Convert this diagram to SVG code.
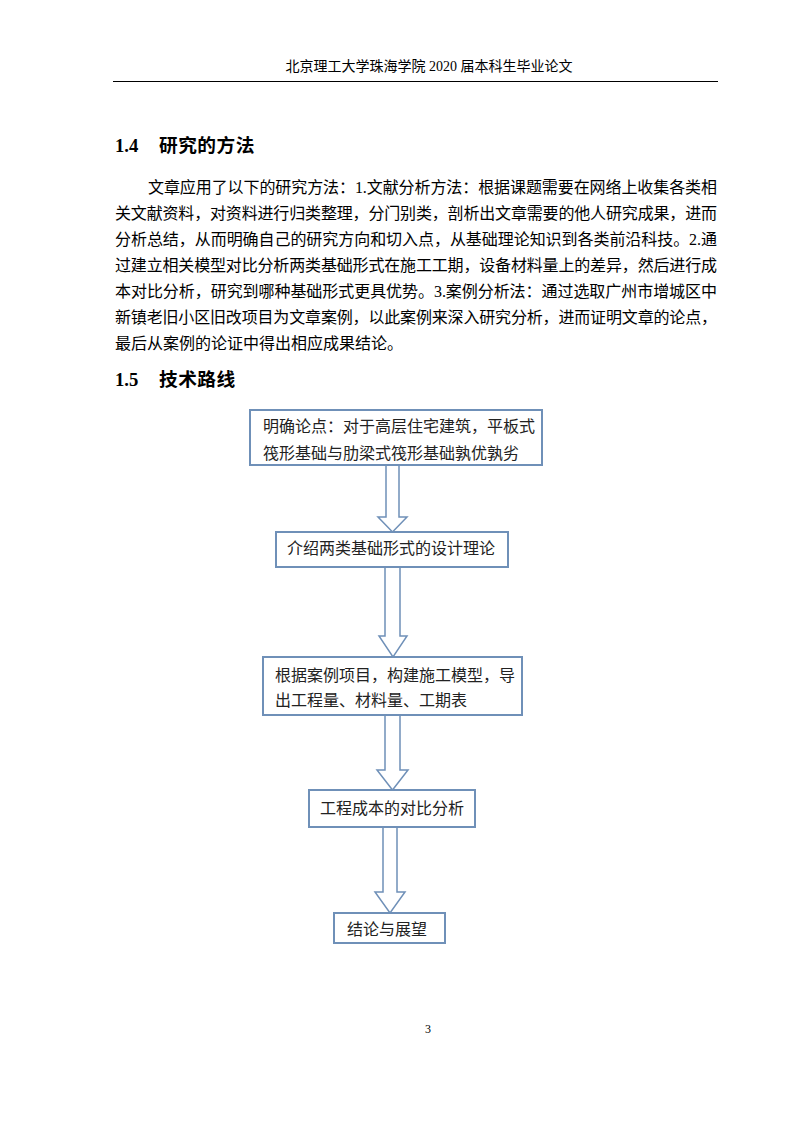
<svg xmlns="http://www.w3.org/2000/svg" width="793" height="1122" viewBox="0 0 793 1122">
<style>
.hdr{font-family:"Liberation Serif","Noto Sans CJK SC",serif;font-size:14px;fill:#000}
.h{font-family:"Liberation Serif","Noto Sans CJK SC",serif;font-size:18.7px;font-weight:bold;fill:#000}
.b{font-family:"Liberation Serif","Noto Sans CJK SC",serif;font-size:16px;fill:#000}
.box{fill:#fff;stroke:#6F90B8;stroke-width:2}
.arr{fill:#fff;stroke:#6F90B8;stroke-width:1.5;stroke-linejoin:miter}
.t{font-family:"Liberation Serif","Noto Sans CJK SC",serif;font-size:16px;fill:#222}
</style>
<rect width="793" height="1122" fill="#fff"/>
<text class="hdr" x="429" y="71" text-anchor="middle">北京理工大学珠海学院 2020 届本科生毕业论文</text>
<line x1="113" y1="81.5" x2="718" y2="81.5" stroke="#000" stroke-width="1.2"/>
<text class="h" x="115" y="152">1.4</text>
<text class="h" x="159" y="152" letter-spacing="0.5">研究的方法</text>
<text class="b" x="148" y="193" textLength="569" lengthAdjust="spacing">文章应用了以下的研究方法：1.文献分析方法：根据课题需要在网络上收集各类相</text>
<text class="b" x="115" y="219" textLength="602" lengthAdjust="spacing">关文献资料，对资料进行归类整理，分门别类，剖析出文章需要的他人研究成果，进而</text>
<text class="b" x="115" y="245" textLength="602" lengthAdjust="spacing">分析总结，从而明确自己的研究方向和切入点，从基础理论知识到各类前沿科技。2.通</text>
<text class="b" x="115" y="271" textLength="602" lengthAdjust="spacing">过建立相关模型对比分析两类基础形式在施工工期，设备材料量上的差异，然后进行成</text>
<text class="b" x="115" y="297" textLength="602" lengthAdjust="spacing">本对比分析，研究到哪种基础形式更具优势。3.案例分析法：通过选取广州市增城区中</text>
<text class="b" x="115" y="323" textLength="602" lengthAdjust="spacing">新镇老旧小区旧改项目为文章案例，以此案例来深入研究分析，进而证明文章的论点，</text>
<text class="b" x="115" y="349">最后从案例的论证中得出相应成果结论。</text>
<text class="h" x="115" y="386">1.5</text>
<text class="h" x="159" y="386" letter-spacing="0.5">技术路线</text>
<g id="connectors">
<polygon class="arr" points="386,465 399,465 399,517 407,517 392.5,532 378,517 386,517"/>
<polygon class="arr" points="385,567 400,567 400,636 407,636 393,657 379,636 385,636"/>
<polygon class="arr" points="385,715 400,715 400,770 408,770 392.5,790 377,770 385,770"/>
<polygon class="arr" points="383,827 397,827 397,892 405,892 390,913 375,892 383,892"/>
</g>
<g id="n1">
<rect class="box" x="250" y="410" width="292" height="55"/>
<text class="t" x="263" y="432">明确论点：对于高层住宅建筑，平板式</text>
<text class="t" x="263" y="459">筏形基础与肋梁式筏形基础孰优孰劣</text>
</g>
<g id="n2">
<rect class="box" x="276" y="532" width="232" height="35"/>
<text class="t" x="287" y="554">介绍两类基础形式的设计理论</text>
</g>
<g id="n3">
<rect class="box" x="263" y="657" width="259" height="58"/>
<text class="t" x="275" y="681">根据案例项目，构建施工模型，导</text>
<text class="t" x="275" y="706">出工程量、材料量、工期表</text>
</g>
<g id="n4">
<rect class="box" x="309" y="790" width="166" height="37"/>
<text class="t" x="320" y="814">工程成本的对比分析</text>
</g>
<g id="n5">
<rect class="box" x="334" y="913" width="111" height="30"/>
<text class="t" x="347" y="935">结论与展望</text>
</g>
<text x="428" y="1033" font-family="Liberation Serif, serif" font-size="12" text-anchor="middle" fill="#000">3</text>
</svg>
